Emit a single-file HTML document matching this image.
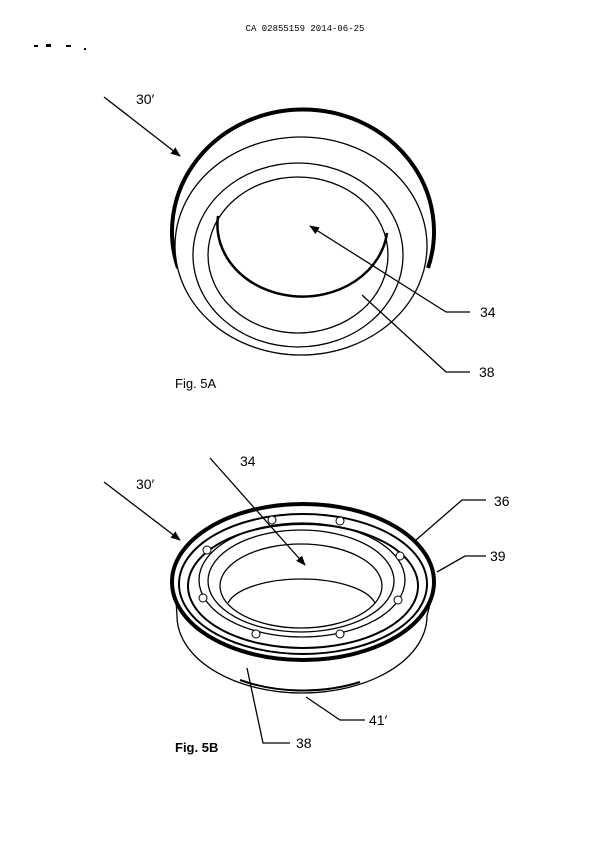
<!DOCTYPE html>
<html><head><style>body{margin:0;background:#fff}svg{display:block}</style></head><body>
<svg width="611" height="864" viewBox="0 0 611 864" xmlns="http://www.w3.org/2000/svg" font-family="Liberation Sans, sans-serif">
<rect width="611" height="864" fill="#fff"/>
<text x="305" y="31" font-family="Liberation Mono, monospace" font-size="9" text-anchor="middle">CA 02855159 2014-06-25</text>
<g fill="#000"><rect x="34" y="45" width="4" height="2"/><rect x="46" y="44" width="5" height="3"/><rect x="66" y="45" width="5" height="2"/><rect x="84" y="48" width="2" height="2"/></g>
<defs><marker id="a" markerWidth="10" markerHeight="8" refX="9" refY="4" orient="auto" markerUnits="userSpaceOnUse"><path d="M0,0L10,4L0,8z" fill="#000"/></marker></defs>
<g fill="none" stroke="#000" stroke-width="1.3">
<!-- Fig 5A -->
<path d="M178,268 A131,122 0 1 1 428,268" stroke-width="4"/>
<ellipse cx="301" cy="246" rx="126" ry="109" fill="#fff"/>
<ellipse cx="298" cy="255" rx="105" ry="92"/>
<ellipse cx="298" cy="255" rx="90" ry="78"/>
<path d="M218,216 A85,72 0 0 0 387,233" stroke-width="2.5"/>
<!-- leaders A -->
<line x1="104" y1="97" x2="180" y2="156" marker-end="url(#a)"/>
<polyline points="446,312 470,312"/><line x1="446" y1="312" x2="310" y2="226" marker-end="url(#a)"/>
<polyline points="362,295 446,372 470,372"/>
<!-- Fig 5B -->
<path d="M176,600 L177,616 A125,77 0 0 0 427,616 L431,600"/>
<path d="M240,680 A125,77 0 0 0 360,682" stroke-width="2"/>
<ellipse cx="303" cy="582" rx="131" ry="78" stroke-width="4"/>
<ellipse cx="303" cy="584" rx="124" ry="70" stroke-width="2"/>
<ellipse cx="303" cy="586" rx="115" ry="62" stroke-width="2"/>
<ellipse cx="302" cy="580" rx="103" ry="57"/>
<ellipse cx="301" cy="581" rx="93" ry="51"/>
<ellipse cx="301" cy="586" rx="81" ry="42"/>
<path d="M228,603 A75,30 0 0 1 375,603"/>
<!-- leaders B -->
<line x1="104" y1="482" x2="180" y2="540" marker-end="url(#a)"/>
<line x1="210" y1="458" x2="305" y2="565" marker-end="url(#a)"/>
<polyline points="416,540 462,500 486,500"/>
<polyline points="437,572 465,556 486,556"/>
<polyline points="306,697 340,720 365,720"/>
<polyline points="247,668 263,743 290,743"/>
</g>
<g fill="#fff" stroke="#000" stroke-width="1">
<circle cx="272" cy="520" r="4"/><circle cx="340" cy="521" r="4"/><circle cx="207" cy="550" r="4"/><circle cx="400" cy="556" r="4"/><circle cx="203" cy="598" r="4"/><circle cx="398" cy="600" r="4"/><circle cx="256" cy="634" r="4"/><circle cx="340" cy="634" r="4"/>
</g>
<g font-size="14">
<text x="136" y="104">30′</text><text x="480" y="317">34</text><text x="479" y="377">38</text>
<text x="175" y="388" font-size="13">Fig. 5A</text>
<text x="136" y="489">30′</text><text x="240" y="466">34</text><text x="494" y="506">36</text><text x="490" y="561">39</text><text x="369" y="725">41′</text><text x="296" y="748">38</text>
<text x="175" y="752" font-size="13" font-weight="bold">Fig. 5B</text>
</g>
</svg>
</body></html>
